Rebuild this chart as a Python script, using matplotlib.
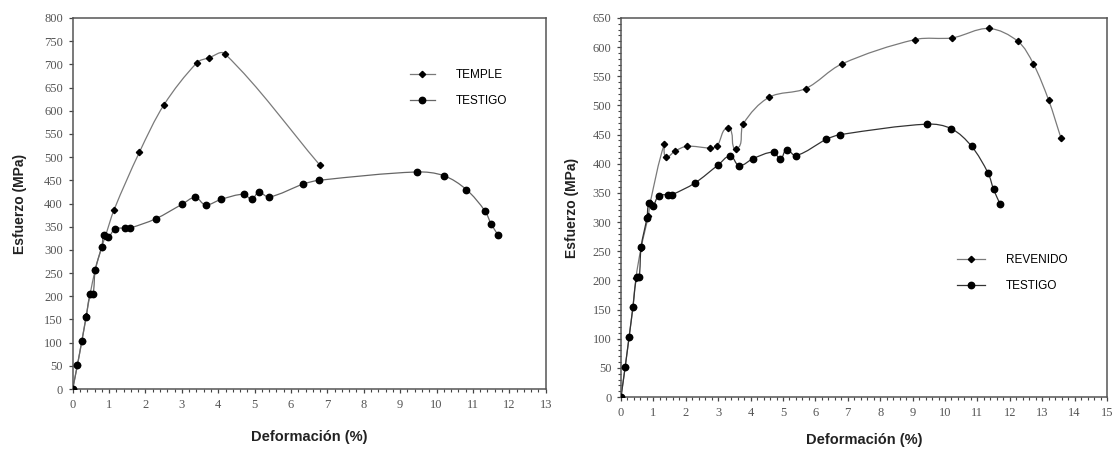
import matplotlib
matplotlib.use("Agg")
import matplotlib.pyplot as plt
import numpy as np
from matplotlib.lines import Line2D
from matplotlib.path import Path
from matplotlib.patches import PathPatch
from matplotlib.ticker import MultipleLocator

# Ensayo de tracción: deformación (%) vs esfuerzo (MPa)
temple_def = [0.0, 0.13, 0.25, 0.37, 0.48, 0.62, 0.80, 0.90, 1.14, 1.83, 2.51, 3.42, 3.74, 4.18, 6.79]
temple_esf = [0, 52, 103, 157, 205, 257, 307, 330, 387, 510, 613, 704, 714, 723, 483]

testigo_def = [0.0, 0.13, 0.25, 0.37, 0.48, 0.56, 0.62, 0.80, 0.87, 0.98, 1.16, 1.44, 1.57,
               2.28, 3.00, 3.37, 3.65, 4.08, 4.71, 4.92, 5.11, 5.40, 6.34, 6.77,
               9.45, 10.20, 10.82, 11.33, 11.50, 11.70]
testigo_esf = [0, 52, 103, 155, 205, 205, 257, 307, 333, 328, 345, 347, 347,
               367, 398, 413, 397, 409, 420, 409, 424, 414, 442, 450,
               468, 460, 430, 384, 356, 331]

revenido_def = [0.0, 0.13, 0.25, 0.37, 0.46, 0.62, 0.84, 0.90, 1.34, 1.38, 1.67, 2.04, 2.76,
                2.96, 3.31, 3.56, 3.78, 4.57, 5.70, 6.81, 9.07, 10.23, 11.35, 12.25,
                12.73, 13.20, 13.58]
revenido_esf = [0, 52, 103, 155, 204, 256, 310, 333, 434, 412, 422, 430, 427,
                430, 461, 426, 469, 514, 529, 571, 613, 616, 632, 610,
                571, 509, 444]

x_label = "Deformación (%)"
y_label = "Esfuerzo (MPa)"

W, H = 1116, 451
fig = plt.figure(figsize=(W / 100, H / 100), dpi=100)

tick_font = dict(family="Liberation Sans", size=9)
tick_font = dict(family="Liberation Serif", size=9)
xlabel_font = dict(family="Liberation Sans", size=10.5, weight="bold")
ylabel_font = dict(family="Liberation Sans", size=10, weight="bold")
legend_font = dict(family="Liberation Sans", size=8.5)
spine_color = "#555555"


def smooth_line(ax, xs, ys, color, lw):
    """Draw a smoothed cubic Bezier line through the points.

    Tangents are computed in screen units and scaled by the length of each
    segment, which keeps the curve from overshooting next to long segments.
    """
    x0, x1 = ax.get_xlim()
    y0, y1 = ax.get_ylim()
    bbox = ax.get_position()
    sx = bbox.width * W / (x1 - x0)
    sy = bbox.height * H / (y1 - y0)
    pts = np.column_stack([np.asarray(xs, float) * sx, np.asarray(ys, float) * sy])
    n = len(pts)
    tang = np.zeros_like(pts)
    for i in range(n):
        a = pts[max(i - 1, 0)]
        b = pts[min(i + 1, n - 1)]
        d = b - a
        norm = np.hypot(*d)
        tang[i] = d / norm if norm > 0 else 0
    verts = [pts[0]]
    codes = [Path.MOVETO]
    for i in range(n - 1):
        p1, p2 = pts[i], pts[i + 1]
        seg = np.hypot(*(p2 - p1)) / 3.0
        verts += [p1 + tang[i] * seg, p2 - tang[i + 1] * seg, p2]
        codes += [Path.CURVE4] * 3
    verts = np.array(verts) / np.array([sx, sy])
    ax.add_patch(PathPatch(Path(verts, codes), fill=False, edgecolor=color,
                           linewidth=lw, zorder=2))


def series(ax, xs, ys, color, marker, ms):
    smooth_line(ax, xs, ys, color, 0.9)
    ax.plot(xs, ys, linestyle="none", marker=marker, ms=ms, mfc="black",
            mec="black", zorder=3)
    return Line2D([], [], color=color, lw=0.9, marker=marker, ms=ms,
                  mfc="black", mec="black")


def style_axes(ax, xmax, ymax, ystep, yminor):
    ax.set_xlim(0, xmax)
    ax.set_ylim(0, ymax)
    ax.xaxis.set_major_locator(MultipleLocator(1))
    ax.xaxis.set_minor_locator(MultipleLocator(0.2))
    ax.yaxis.set_major_locator(MultipleLocator(ystep))
    if yminor:
        ax.yaxis.set_minor_locator(MultipleLocator(yminor))
    for s in ax.spines.values():
        s.set_color(spine_color)
        s.set_linewidth(1.1)
    ax.tick_params(which="major", direction="out", length=3, width=0.9,
                   color="#444444", labelcolor="#555555", pad=4)
    ax.tick_params(which="minor", direction="out", length=2.5, width=0.8, color="#444444")
    for lab in ax.get_xticklabels() + ax.get_yticklabels():
        lab.set_fontfamily(tick_font["family"])
        lab.set_fontsize(tick_font["size"])


# Panel izquierdo: temple vs testigo
ax1 = fig.add_axes([72.7 / W, 1 - 389 / H, 473 / W, 371 / H])
style_axes(ax1, 13, 800, 50, None)
h_temple = series(ax1, temple_def, temple_esf, "#7a7a7a", "D", 3.2)
h_test1 = series(ax1, testigo_def, testigo_esf, "#666666", "o", 4.6)
ax1.set_xlabel(x_label, fontdict=xlabel_font, color="#222222", labelpad=14)
ax1.set_ylabel(y_label, fontdict=ylabel_font, color="#222222", labelpad=12)
ax1.legend([h_temple, h_test1], ["TEMPLE", "TESTIGO"], loc="upper left",
           bbox_to_anchor=(0.713, 0.862), frameon=False, borderpad=0,
           borderaxespad=0, handlelength=2.1, handletextpad=1.75,
           labelspacing=1.2, prop=legend_font)

# Panel derecho: revenido vs testigo
ax2 = fig.add_axes([621 / W, 1 - 397 / H, 486 / W, 379 / H])
style_axes(ax2, 15, 650, 50, 10)
h_rev = series(ax2, revenido_def, revenido_esf, "#7a7a7a", "D", 3.2)
h_test2 = series(ax2, testigo_def, testigo_esf, "#333333", "o", 4.6)
ax2.set_xlabel(x_label, fontdict=xlabel_font, color="#222222", labelpad=10)
ax2.set_ylabel(y_label, fontdict=ylabel_font, color="#222222", labelpad=10)
ax2.legend([h_rev, h_test2], ["REVENIDO", "TESTIGO"], loc="upper left",
           bbox_to_anchor=(0.691, 0.378), frameon=False, borderpad=0,
           borderaxespad=0, handlelength=2.4, handletextpad=1.75,
           labelspacing=1.2, prop=legend_font)

fig.savefig("out.png", dpi=100)
